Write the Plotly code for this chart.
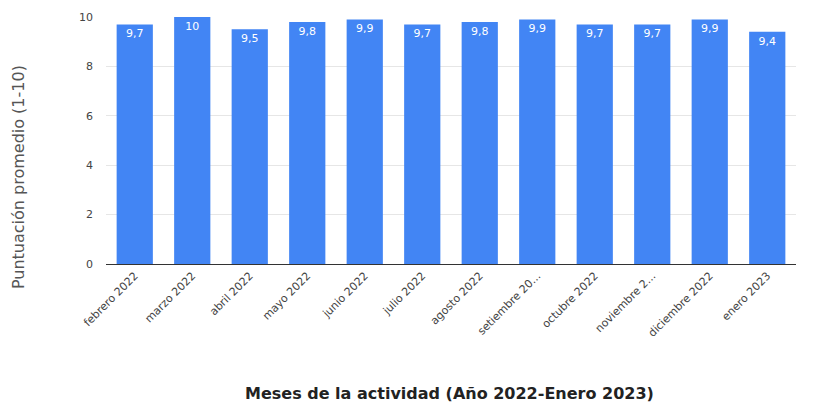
import plotly.graph_objects as go

months = ["febrero 2022", "marzo 2022", "abril 2022", "mayo 2022", "junio 2022",
          "julio 2022", "agosto 2022", "setiembre 20...", "octubre 2022",
          "noviembre 2...", "diciembre 2022", "enero 2023"]
scores = [9.7, 10, 9.5, 9.8, 9.9, 9.7, 9.8, 9.9, 9.7, 9.7, 9.9, 9.4]
y_ticks = [0, 2, 4, 6, 8, 10]
x_title = "Meses de la actividad (Año 2022-Enero 2023)"
y_title = "Puntuación promedio (1-10)"

labels = [("%g" % v).replace(".", ",") for v in scores]
FONT = "DejaVu Sans"

fig = go.Figure(go.Bar(
    x=months, y=scores, text=labels,
    textposition="inside", insidetextanchor="end",
    textfont=dict(color="white", size=11, family=FONT),
    marker=dict(color="#4285F4", line=dict(width=0)),
    cliponaxis=False,
))

fig.update_layout(
    width=807, height=404,
    margin=dict(l=98, r=19, t=9, b=148),
    paper_bgcolor="white", plot_bgcolor="white",
    bargap=0.37,
    showlegend=False,
    font=dict(family=FONT, color="#444444", size=11),
    annotations=[
        dict(text="<b>" + x_title + "</b>", xref="paper", yref="paper",
             x=0.498, y=-0.526, xanchor="center", yanchor="middle", showarrow=False,
             font=dict(size=16, color="#222222", family=FONT)),
        dict(text=y_title, xref="paper", yref="paper", textangle=-90,
             x=-0.1275, y=0.352, xanchor="center", yanchor="middle", showarrow=False,
             font=dict(size=16, color="#555555", family=FONT)),
    ],
)
fig.update_xaxes(
    automargin=False,
    tickangle=-45, tickfont=dict(size=11, color="#444444", family=FONT),
    showline=True, linecolor="#333333", linewidth=1,
    ticks="", showgrid=False,
)
fig.update_yaxes(
    automargin=False,
    range=[0, 10], tickvals=y_ticks,
    showgrid=True, gridcolor="#e6e6e6", zeroline=False,
    tickfont=dict(size=11, color="#444444", family=FONT), ticks="", ticklabelstandoff=12,
)

fig.write_html("out.html")
